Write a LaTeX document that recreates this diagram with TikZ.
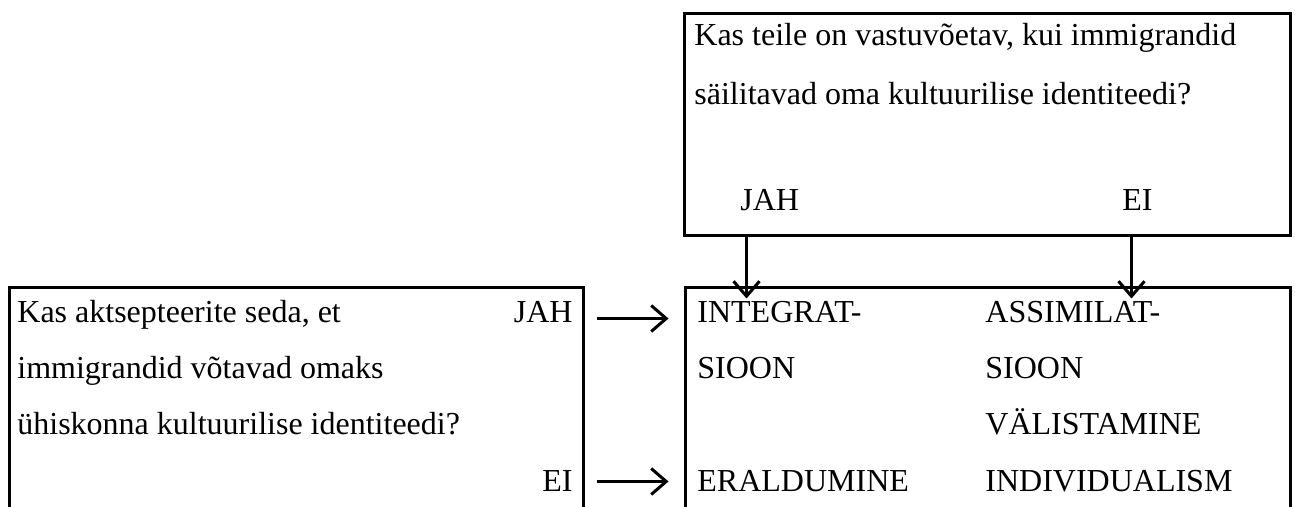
\documentclass[tikz,border=0pt]{standalone}
\usepackage{fontspec}
\setmainfont{Liberation Serif}
\usetikzlibrary{arrows.meta,fit,calc}
\begin{document}
\begin{tikzpicture}[x=0.5pt,y=-0.5pt,
  box/.style={draw, line width=1.5pt, inner sep=0pt},
  txt/.style={font=\fontsize{16}{19}\selectfont, inner sep=0pt, anchor=base west},
  txtr/.style={txt, anchor=base east},
  arr/.style={line width=1.5pt, -{Straight Barb[length=7.5pt,width=13pt,line width=1.5pt]}}]
\path[use as bounding box] (0,0) rectangle (1295,507);
\clip (0,0) rectangle (1295,507);
% boxes
\node[box, fit={(684,14) (1290,236)}] (q1) {};
\node[box, fit={(9,288) (583,580)}] (q2) {};
\node[box, fit={(685,288) (1290,580)}] (res) {};
% top box text
\node[txt] (q1a) at (694,46) {Kas teile on vastuvõetav, kui immigrandid};
\node[txt] (q1b) at (694,105) {säilitavad oma kultuurilise identiteedi?};
\node[txt] (q1jah) at (740,211) {JAH};
\node[txt] (q1ei) at (1122,211) {EI};
% left box text
\node[txt] (q2a) at (17,323) {Kas aktsepteerite seda, et};
\node[txt] (q2b) at (17,379) {immigrandid võtavad omaks};
\node[txt] (q2c) at (17,435) {ühiskonna kultuurilise identiteedi?};
\node[txtr] (q2jah) at (573,323) {JAH};
\node[txtr] (q2ei) at (573,491) {EI};
% result box text
\node[txt] (r1) at (697,323) {INTEGRAT-};
\node[txt] (r2) at (697,379) {SIOON};
\node[txt] (r3) at (697,491) {ERALDUMINE};
\node[txt] (r4) at (985,323) {ASSIMILAT-};
\node[txt] (r5) at (985,379) {SIOON};
\node[txt] (r6) at (985,435) {VÄLISTAMINE};
\node[txt] (r7) at (985,491) {INDIVIDUALISM};
% arrows
\draw[arr] ($(q1.south west)+(64,0)$) -- ($(res.north west)+(63,12)$);
\draw[arr] ($(q1.south west)+(449,0)$) -- ($(res.north west)+(448,12)$);
\draw[arr] ($(q2.north east)+(12,32)$) -- ($(res.north west)+(-15,32)$);
\draw[arr] ($(q2.north east)+(12,195)$) -- ($(res.north west)+(-15,195)$);
\end{tikzpicture}
\end{document}
